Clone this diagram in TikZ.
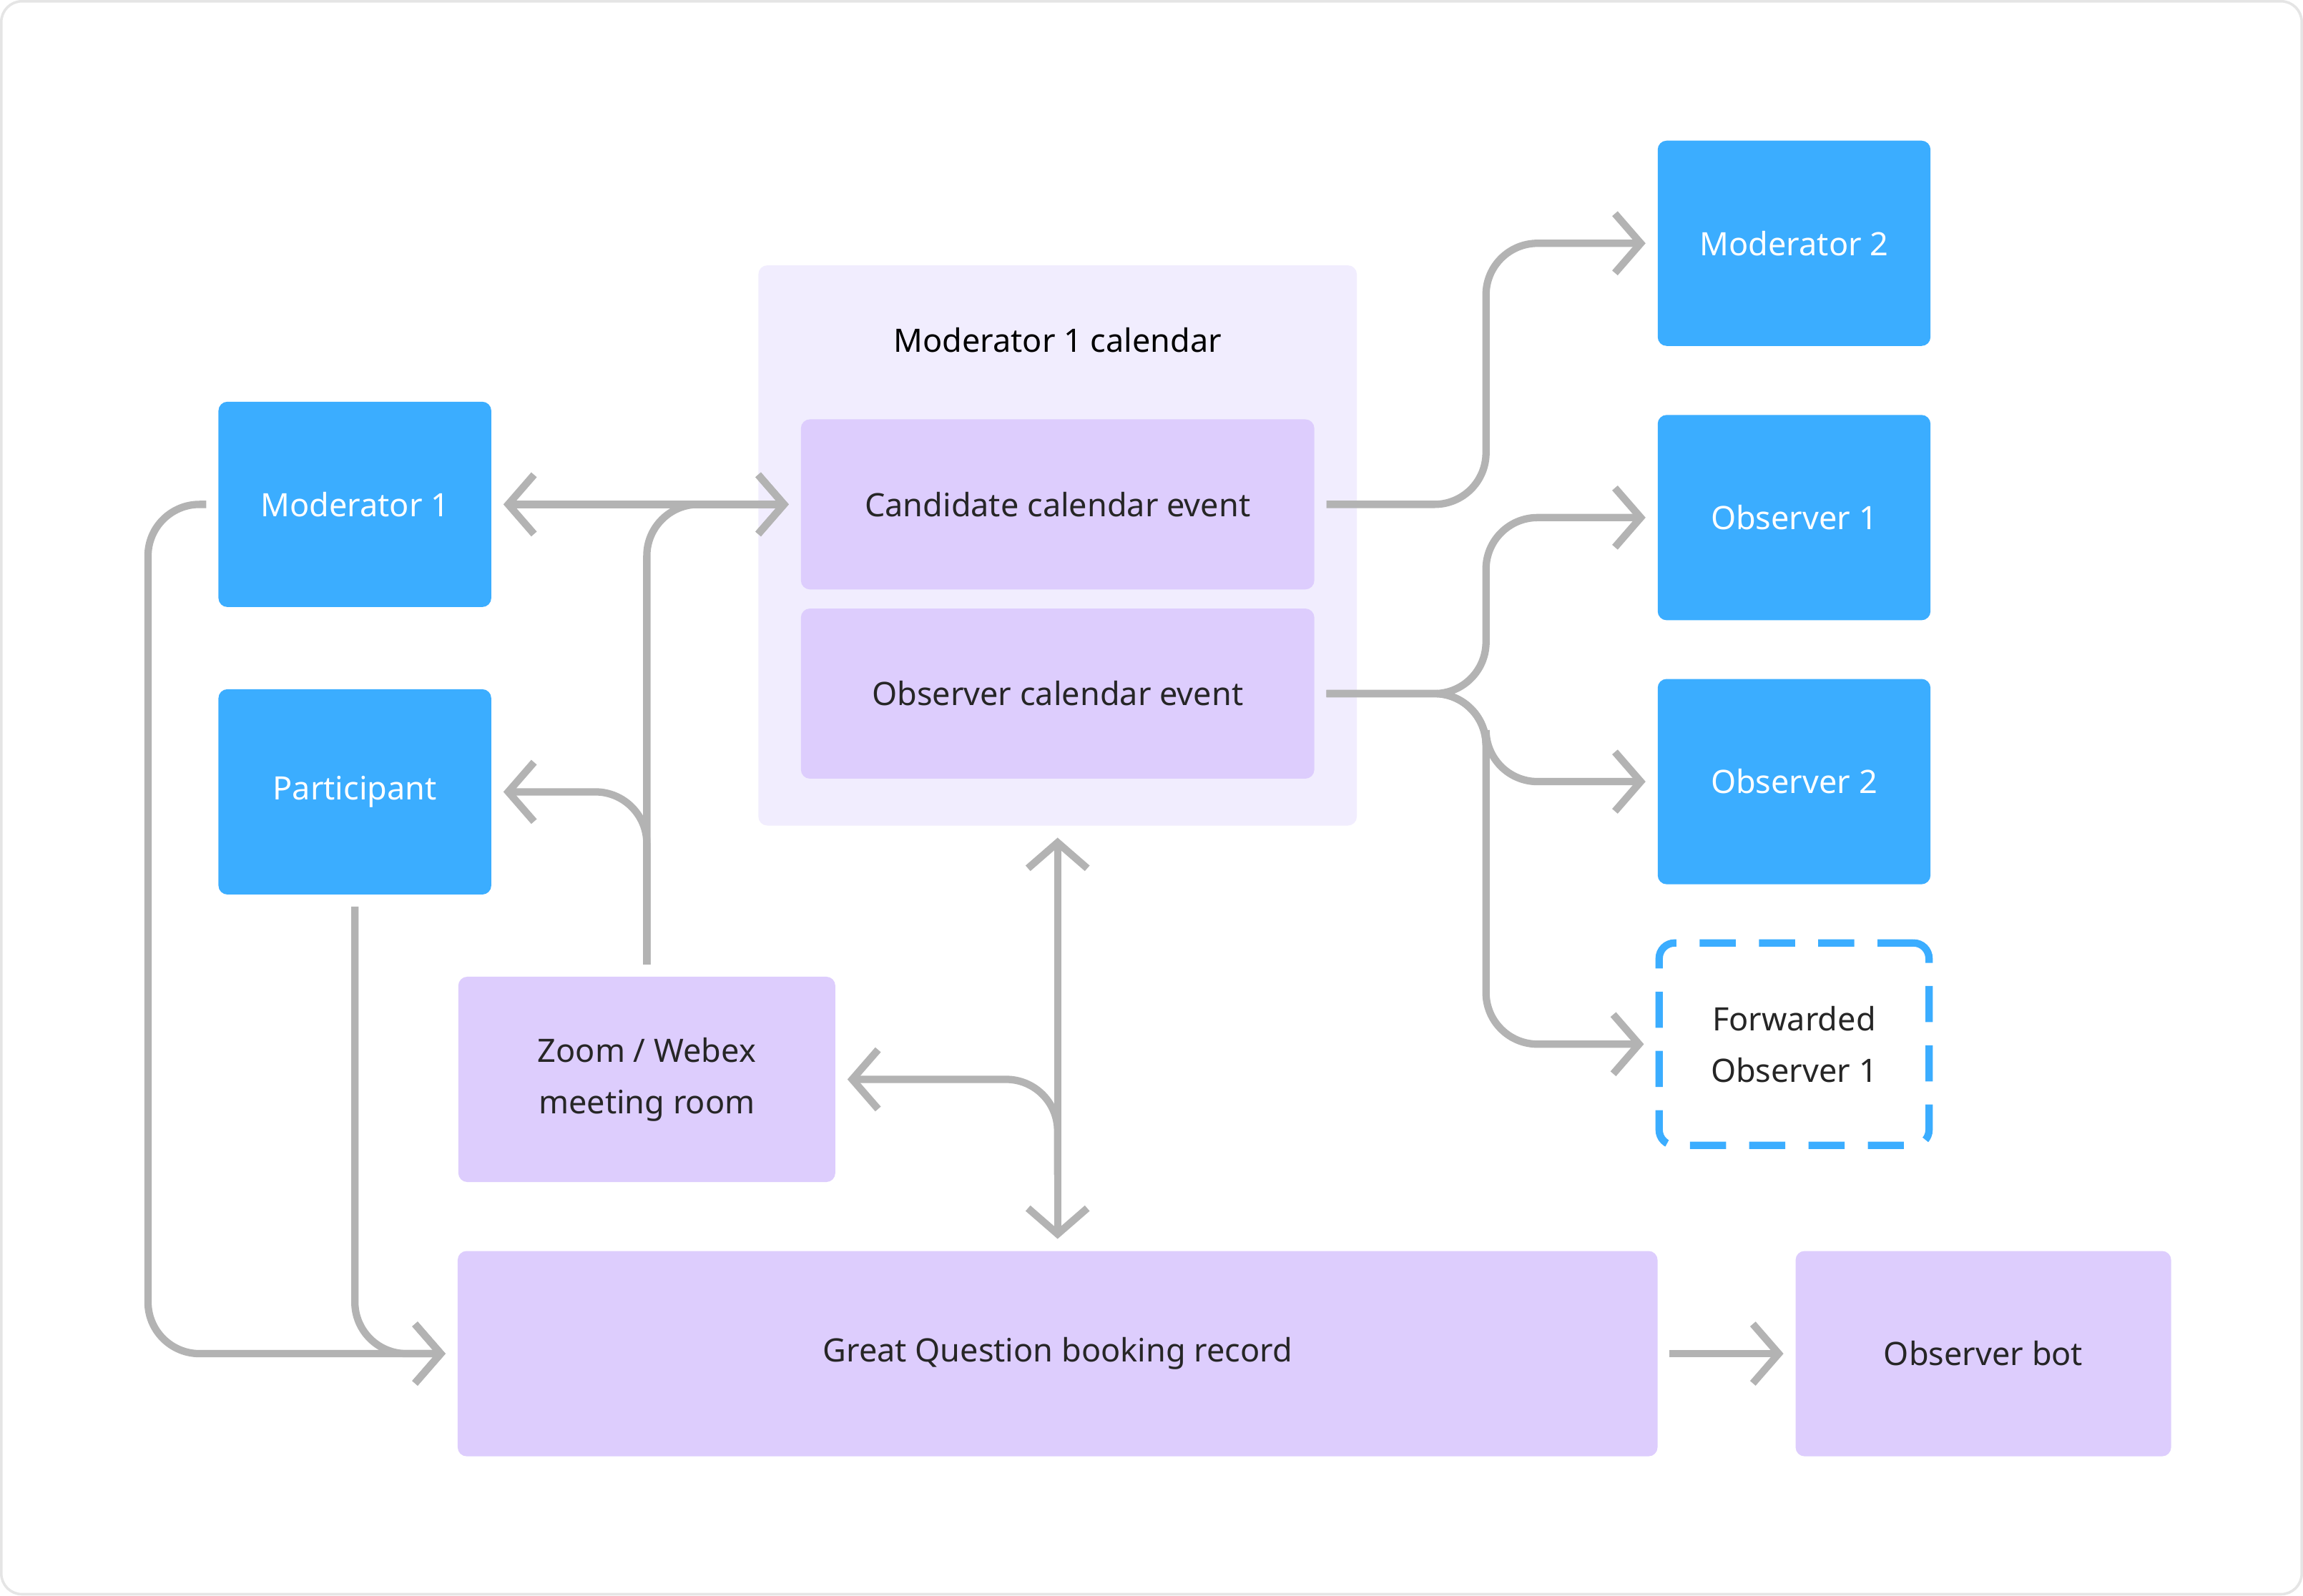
\documentclass[tikz,border=0pt]{standalone}
\usepackage{fontspec}
\setmainfont{Noto Sans}
\usetikzlibrary{arrows.meta,positioning}
\definecolor{boxblue}{HTML}{3BADFF}
\definecolor{boxlilac}{HTML}{DDCDFD}
\definecolor{callilac}{HTML}{F1EDFE}
\definecolor{linegray}{HTML}{B3B3B3}
\begin{document}
\begin{tikzpicture}[x=0.02cm,y=-0.02cm,
  every node/.style={font=\fontsize{12.5}{20}\selectfont},
  person/.style={fill=boxblue,text=white,rounded corners=3.5pt,minimum width=3.72cm,minimum height=2.8cm,align=center},
  item/.style={fill=boxlilac,text=black!85,rounded corners=3.5pt,align=center},
  conn/.style={draw=linegray,line width=2.85pt,rounded corners=20pt,shorten >=4.5pt,shorten <=4.5pt,
    arrows={-Straight Barb[length=10pt,width=23pt]}},
  both/.style={arrows={Straight Barb[length=10pt,width=23pt]-Straight Barb[length=10pt,width=23pt]}}]
  \draw[black!10,line width=1pt,rounded corners=8pt,fill=white] (0,0) rectangle (1568,1086);

  %--- calendar container ---
  \node[fill=callilac,rounded corners=3.5pt,minimum width=8.16cm,minimum height=7.64cm] (cal) at (720,371) {};
  \node (caltitle) at (720,231) {Moderator 1 calendar};
  \node[item,minimum width=7cm,minimum height=2.32cm] (cand) at (720,343) {Candidate calendar event};
  \node[item,minimum width=7cm,minimum height=2.32cm] (obs) at (720,472) {Observer calendar event};

  %--- people ---
  \node[person] (mod1) at (241,343) {Moderator 1};
  \node[person] (part) at (241,539) {Participant};
  \node[person] (mod2) at (1222,165) {Moderator 2};
  \node[person] (obs1) at (1222,352) {Observer 1};
  \node[person] (obs2) at (1222,532) {Observer 2};
  \node[draw=boxblue,line width=2.85pt,dash pattern=on 14pt off 9pt,rounded corners=6pt,
        minimum width=3.68cm,minimum height=2.76cm,align=center,text=black!85] (fwd) at (1222,711) {Forwarded\\Observer 1};

  %--- records ---
  \node[item,minimum width=5.14cm,minimum height=2.8cm] (zoom) at (440,735) {Zoom / Webex\\meeting room};
  \node[item,minimum width=16.36cm,minimum height=2.8cm] (book) at (720,922) {Great Question booking record};
  \node[item,minimum width=5.12cm,minimum height=2.8cm] (bot) at (1351,922) {Observer bot};

  %--- junctions ---
  \coordinate (sp1) at (1012,343);
  \coordinate (sp2) at (1012,472);
  \coordinate (jb) at (720,800);
  \coordinate (cl) at (100,630);

  %--- connectors ---
  \draw[conn,both] (mod1.east) -- (cand.west);
  \draw[conn] (zoom.north) |- (cand.west);
  \draw[conn] (zoom.north) |- (part.east);
  \draw[conn] (cand.east) -- (sp1) |- (mod2.west);
  \draw[conn] (obs.east) -- (sp2) |- (obs1.west);
  \draw[conn] (obs.east) -- (sp2) |- (obs2.west);
  \draw[conn] (obs.east) -- (sp2) |- (fwd.west);
  \draw[conn,both] (cal.south) -- (book.north);
  \draw[conn,shorten <=0pt] (jb) |- (zoom.east);
  \draw[conn] (mod1.west) -| (cl) |- (book.west);
  \draw[conn] (part.south) |- (book.west);
  \draw[conn] (book.east) -- (bot.west);
\end{tikzpicture}
\end{document}
